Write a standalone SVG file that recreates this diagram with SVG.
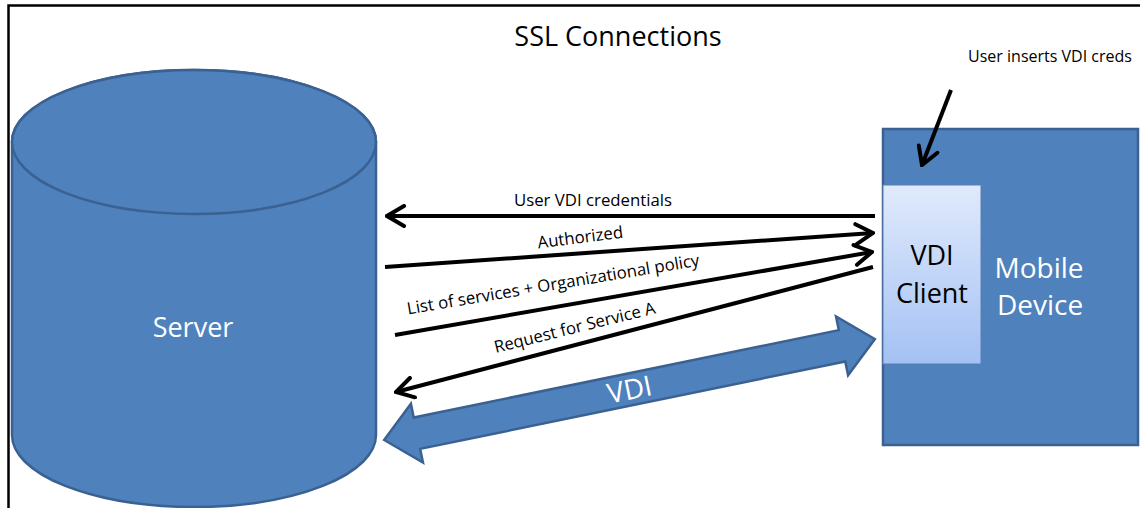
<svg xmlns="http://www.w3.org/2000/svg" width="1140" height="508" viewBox="0 0 1140 508">
  <defs>
    <style>
      .t { font-family: "Open Sans", "Liberation Sans", sans-serif; }
      .lbl { font-size: 16.8px; fill: #000; }
      .big { font-size: 27px; }
      .white { fill: #ffffff; }
      .msg { stroke: #000; stroke-width: 4; fill: none; }
      .blue { fill: #4f81bd; stroke: #3a6191; stroke-width: 2.5; }
    </style>
    <linearGradient id="clientGrad" x1="0" y1="0" x2="0" y2="1">
      <stop offset="0" stop-color="#e0eafc"/>
      <stop offset="1" stop-color="#a4c1f4"/>
    </linearGradient>
    <marker id="open" viewBox="0 0 22 24" refX="20" refY="12" markerWidth="22" markerHeight="24" markerUnits="userSpaceOnUse" orient="auto">
      <path d="M3,2 L20,12 L3,22" fill="none" stroke="#000" stroke-width="4" stroke-linecap="round" stroke-linejoin="miter"/>
    </marker>
  </defs>

  <rect width="1140" height="508" fill="#ffffff"/>
  <!-- frame -->
  <path d="M8.5,508 L8.5,5.5 L1140,5.5" fill="none" stroke="#000" stroke-width="2.5"/>

  <text class="t big" x="618" y="46" text-anchor="middle" fill="#000">SSL Connections</text>

  <g id="server">
    <path class="blue" d="M12,142 L12,435 A182,72 0 0 0 376,435 L376,142 A182,72 0 0 0 12,142 Z"/>
    <ellipse class="blue" cx="194" cy="142" rx="182" ry="72"/>
    <text class="t big white" x="193" y="337" text-anchor="middle">Server</text>
  </g>

  <g id="mobile-device">
    <rect class="blue" x="883" y="129" width="255" height="316"/>
    <text class="t white" x="1039" y="278" text-anchor="middle" font-size="28">Mobile</text>
    <text class="t white" x="1040" y="315" text-anchor="middle" font-size="28">Device</text>
  </g>

  <g id="vdi-client">
    <rect x="883" y="185" width="98" height="179" fill="url(#clientGrad)" stroke="#5b7fb0" stroke-width="1"/>
    <text class="t big" x="932" y="265" text-anchor="middle" fill="#000">VDI</text>
    <text class="t big" x="932" y="303" text-anchor="middle" fill="#000">Client</text>
  </g>

  <g id="user-note">
    <text class="t" x="1050" y="62" text-anchor="middle" font-size="16" fill="#000">User inserts VDI creds</text>
  </g>

  <g id="connectors">
    <line class="msg" x1="951" y1="90" x2="922" y2="165" marker-end="url(#open)"/>
    <line class="msg" x1="875" y1="216" x2="387" y2="216" marker-end="url(#open)"/>
    <line class="msg" x1="385" y1="267" x2="873" y2="233" marker-end="url(#open)"/>
    <line class="msg" x1="395" y1="335" x2="872" y2="252" marker-end="url(#open)"/>
    <line class="msg" x1="873" y1="267" x2="396" y2="392" marker-end="url(#open)"/>

    <g id="vdi-arrow" transform="translate(629.5,389.5) rotate(-11.62)">
      <polygon class="blue" stroke-width="2" points="-250.5,0 -217,-30 -217,-16 217,-16 217,-30 250.5,0 217,30 217,16 -217,16 -217,30"/>
      <text class="t white" x="0" y="10" text-anchor="middle" font-size="28">VDI</text>
    </g>

    <text class="t lbl" x="593" y="206" text-anchor="middle">User VDI credentials</text>
    <text class="t lbl" transform="translate(581,243) rotate(-7.2)" text-anchor="middle">Authorized</text>
    <text class="t lbl" transform="translate(554,290) rotate(-9.5)" text-anchor="middle">List of services + Organizational policy</text>
    <text class="t lbl" transform="translate(576,333) rotate(-13.9)" text-anchor="middle">Request for Service A</text>
  </g>
</svg>
